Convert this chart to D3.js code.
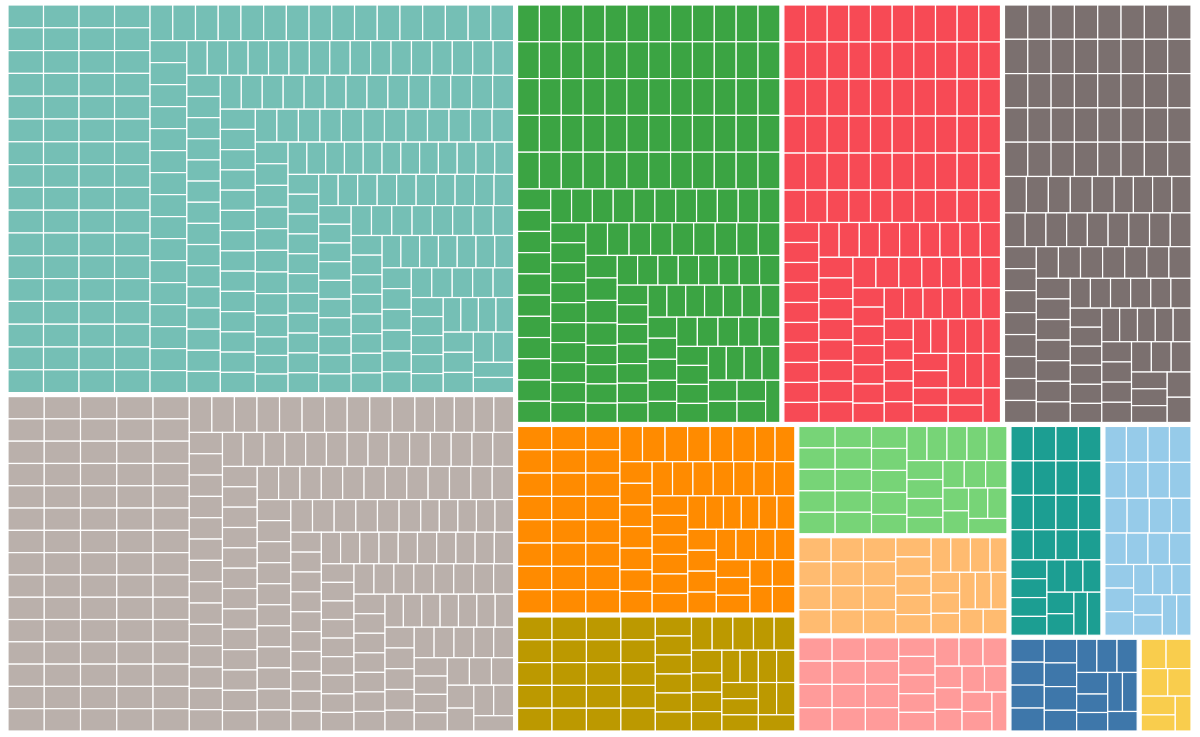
<!DOCTYPE html>
<html><head><meta charset="utf-8">
<script src="https://cdn.jsdelivr.net/npm/d3@7"></script>
<style>body{margin:0;background:#fff}svg{display:block}</style>
</head><body><svg id="c" width="1200" height="737"></svg>
<script>
// groups and number of leaves at each leaf size tier
const groups = ["teal","beige","green","red","brown","orange","olive","lightgreen","lightorange","pink","darkteal","lightblue","blue","yellow"];
const colors = ["#75bfb5","#bab0ab","#3ba443","#f74a55","#7b706f","#ff8b00","#bc9900","#77d477","#ffbb70","#ff9b9a","#1c9e92","#96cbe9","#3e77aa","#f9cd4d"];
const tierValues = [8, 7, 6];
const tierCounts = [
  [100,80,96],[85,75,78],[60,45,49],[50,40,37],[45,35,29],[30,22,21],[20,12,13],
  [14,9,9],[12,8,9],[12,8,8],[12,8,7],[11,8,7],[7,5,5],[3,2,2]
];
const root = {name:"root", children: groups.map((g,i)=>({
  name:g, color:colors[i],
  children: tierCounts[i].flatMap((n,t)=>Array.from({length:n},(_,k)=>({name:g+"-"+t+"-"+k, value:tierValues[t]})))
}))};
const W=1200,H=737;
const h = d3.hierarchy(root).sum(d=>d.value||0).sort((a,b)=>b.value-a.value);
d3.treemap().tile(d3.treemapSquarify).size([W-17,H-11]).paddingInner(d=>d.depth===0?4:0).round(false)(h);
const svg=d3.select("#c").append("g").attr("transform","translate(8,5)");
svg.selectAll("rect").data(h.leaves()).join("rect")
  .attr("x",d=>d.x0).attr("y",d=>d.y0)
  .attr("width",d=>Math.max(0,d.x1-d.x0)).attr("height",d=>Math.max(0,d.y1-d.y0))
  .attr("fill",d=>d.parent.data.color).attr("stroke","#fff").attr("stroke-width",1.2);
</script></body></html>
